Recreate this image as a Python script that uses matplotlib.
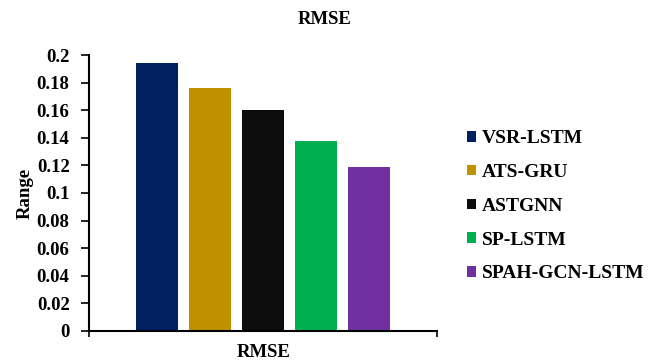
import matplotlib
matplotlib.use("Agg")
import matplotlib.pyplot as plt
from matplotlib.patches import Patch

models = ["VSR-LSTM", "ATS-GRU", "ASTGNN", "SP-LSTM", "SPAH-GCN-LSTM"]
rmse = [0.194, 0.176, 0.160, 0.138, 0.119]
colors = ["#002060", "#BF9000", "#0D0D0D", "#00B050", "#7030A0"]
yticks = [0, 0.02, 0.04, 0.06, 0.08, 0.1, 0.12, 0.14, 0.16, 0.18, 0.2]
ytick_labels = ["0", "0.02", "0.04", "0.06", "0.08", "0.1", "0.12", "0.14", "0.16", "0.18", "0.2"]

plt.rcParams["font.family"] = ["Liberation Serif", "DejaVu Serif"]
plt.rcParams["font.weight"] = "bold"
fs = 13.5

fig = plt.figure(figsize=(6.5, 3.62), dpi=100)
ax = fig.add_axes([0.137, 0.086, 0.535, 0.762])

pos = list(range(len(models)))
ax.bar(pos, rmse, width=0.79, color=colors, edgecolor="none")

ax.set_ylim(0, 0.2)
ax.set_xlim(-1.27, 5.27)
ax.set_yticks(yticks)
ax.set_yticklabels(ytick_labels, fontsize=fs, fontweight="bold")
ax.set_xticks([-1.27, 5.27])
ax.set_xticklabels(["", ""])
ax.tick_params(axis="y", direction="out", length=6, width=1.2, pad=8)
ax.tick_params(axis="x", direction="out", length=4, width=1.2)
for s in ["top", "right"]:
    ax.spines[s].set_visible(False)
for s in ["left", "bottom"]:
    ax.spines[s].set_linewidth(1.5)

ax.set_ylabel("Range", fontsize=fs, fontweight="bold", labelpad=2)
# category label under the x axis
fig.text(0.405, 0.025, "RMSE", ha="center", va="center", fontsize=fs, fontweight="bold")
fig.text(0.5, 0.947, "RMSE", ha="center", va="center", fontsize=fs, fontweight="bold")

handles = [Patch(facecolor=c, edgecolor="none") for c in colors]
fig.legend(handles, models, loc="center left", bbox_to_anchor=(0.692, 0.43),
           frameon=False, prop={"size": 14, "weight": "bold"},
           handlelength=0.45, handleheight=0.45, handletextpad=0.3,
           labelspacing=0.86)

fig.savefig("out.png", dpi=100)
